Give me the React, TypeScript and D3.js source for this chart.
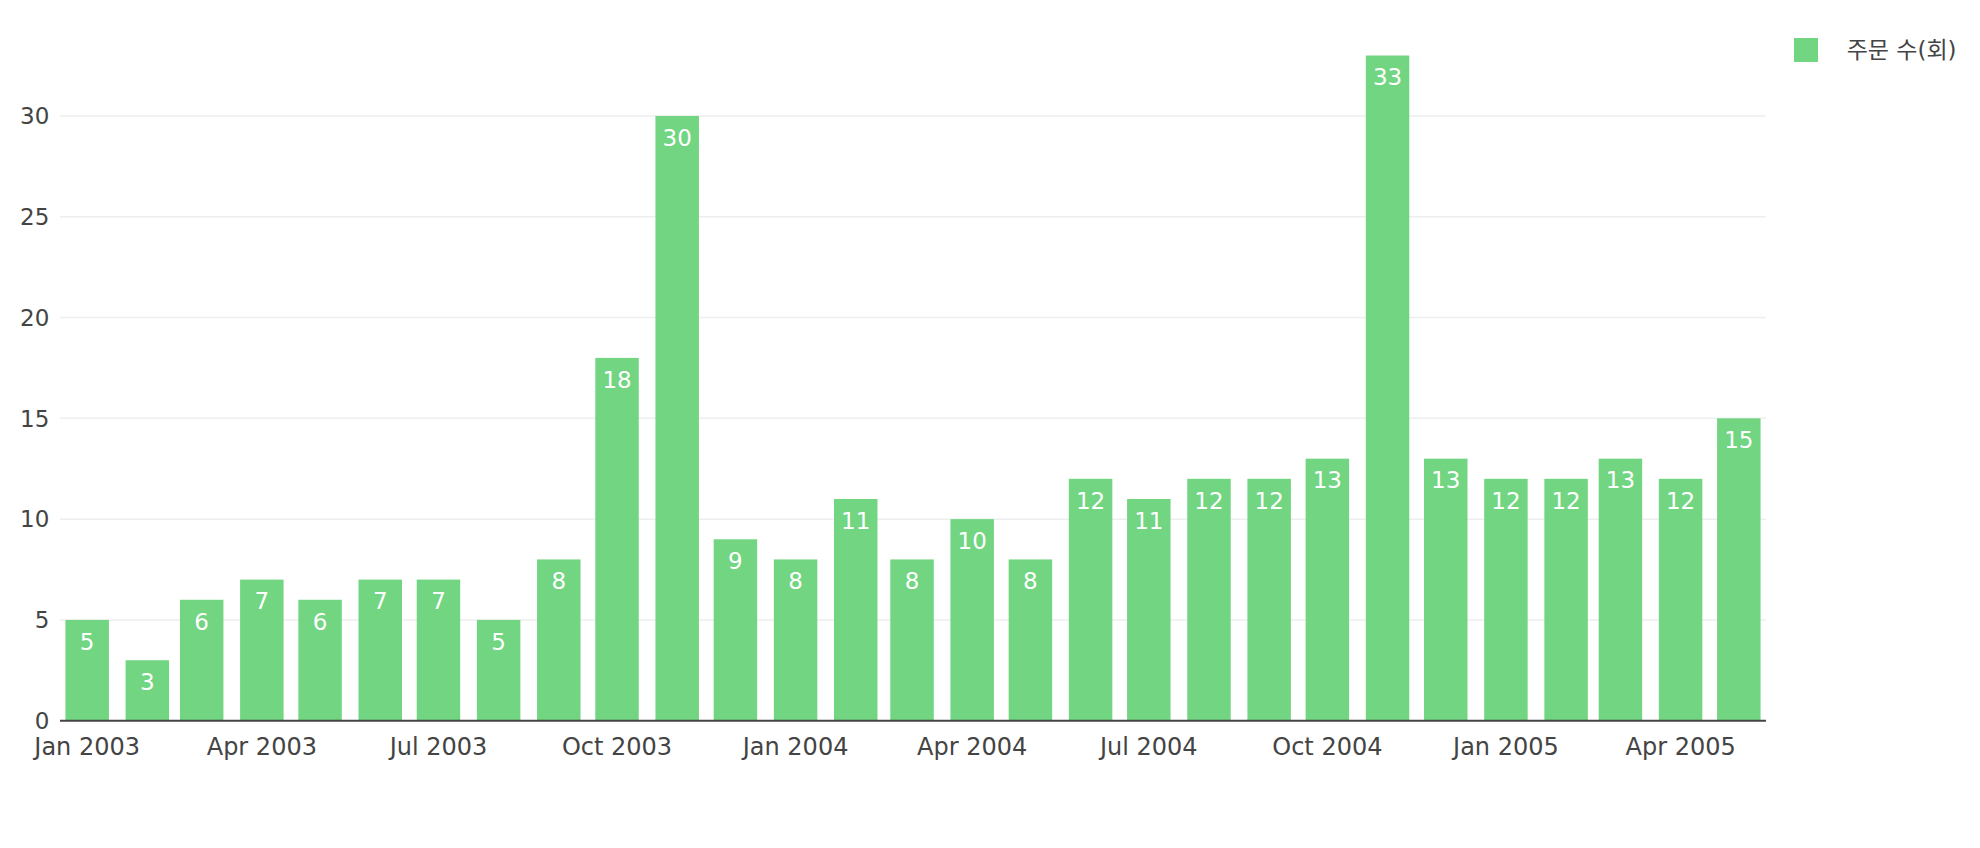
import React from "react";
import * as d3 from "d3";

const months: string[] = [
  "2003-01-01","2003-02-01","2003-03-01","2003-04-01","2003-05-01","2003-06-01",
  "2003-07-01","2003-08-01","2003-09-01","2003-10-01","2003-11-01","2003-12-01",
  "2004-01-01","2004-02-01","2004-03-01","2004-04-01","2004-05-01","2004-06-01",
  "2004-07-01","2004-08-01","2004-09-01","2004-10-01","2004-11-01","2004-12-01",
  "2005-01-01","2005-02-01","2005-03-01","2005-04-01","2005-05-01",
];
const orders: number[] = [5,3,6,7,6,7,7,5,8,18,30,9,8,11,8,10,8,12,11,12,12,13,33,13,12,12,13,12,15];
const xTickDates: string[] = [
  "2003-01-01","2003-04-01","2003-07-01","2003-10-01",
  "2004-01-01","2004-04-01","2004-07-01","2004-10-01",
  "2005-01-01","2005-04-01",
];
const yTicks: number[] = [0,5,10,15,20,25,30];
const seriesName = "주문 수(회)";

const W = 1980, H = 848;
const left = 60, right = 1766;
const DAY = 86400000;
const FONT = "'DejaVu Sans', 'Noto Sans CJK KR', sans-serif";
const BAR = "#71d581";
const TXT = "#444444";

export default function App() {
  const dates = months.map((m) => new Date(m + "T00:00:00Z"));
  const minGap = 28 * DAY;
  const x = d3.scaleUtc()
    .domain([new Date(+dates[0] - minGap / 2), new Date(+dates[dates.length - 1] + minGap / 2)])
    .range([left, right]);
  const y = d3.scaleLinear().domain([0, 30]).range([720.7, 116]);
  const bw = (x(new Date(+dates[0] + minGap * 0.8)) - x(dates[0]));
  const fmt = d3.utcFormat("%b %Y");

  return (
    <svg width={W} height={H} style={{ position: "absolute", left: 0, top: 0, background: "#fff" }} fontFamily={FONT}>
      {yTicks.filter((t) => t !== 0).map((t) => (
        <line key={"g" + t} x1={left} x2={right} y1={y(t)} y2={y(t)} stroke="#eeeeee" strokeWidth={1.5} />
      ))}
      {yTicks.map((t) => (
        <text key={"yt" + t} x={49.3} y={y(t)} dy="0.36em" textAnchor="end" fontSize={23} fill={TXT}>{t}</text>
      ))}
      {dates.map((d, i) => {
        const cx = x(d);
        const top = y(orders[i]);
        return (
          <g key={"b" + i}>
            <rect x={cx - bw / 2} y={top} width={bw} height={y(0) - top} fill={BAR} />
            <text x={cx} y={top + 21.5} dy="0.36em" textAnchor="middle" fontSize={23} fill="#ffffff">{orders[i]}</text>
          </g>
        );
      })}
      <line x1={left} x2={right} y1={y(0)} y2={y(0)} stroke={TXT} strokeWidth={2} />
      {xTickDates.map((s) => {
        const d = new Date(s + "T00:00:00Z");
        return (
          <text key={"xt" + s} x={x(d)} y={755} textAnchor="middle" fontSize={24} fill={TXT}>{fmt(d)}</text>
        );
      })}
      <rect x={1794} y={38} width={24} height={24} fill={BAR} />
      <text x={1846.7} y={50} dy="0.36em" fontSize={23} fill={TXT}>{seriesName}</text>
    </svg>
  );
}
